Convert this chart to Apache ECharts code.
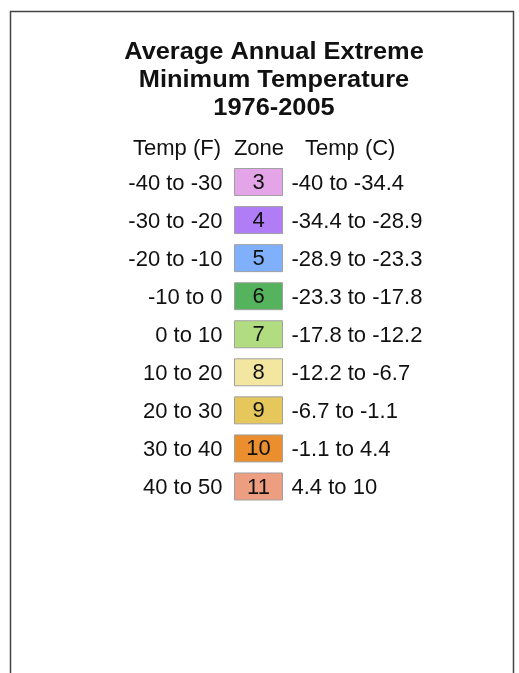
<!DOCTYPE html>
<html>
<head>
<meta charset="utf-8">
<script src="https://cdn.jsdelivr.net/npm/echarts@6/dist/echarts.min.js"></script>
<style>
html,body{margin:0;padding:0;background:#fff;}
#main{width:519px;height:673px;}
</style>
</head>
<body>
<div id="main"></div>
<script>
const titleLines = ['Average Annual Extreme', 'Minimum Temperature', '1976-2005'];
const headers = ['Temp (F)', 'Zone', 'Temp (C)'];
const zones = ['3', '4', '5', '6', '7', '8', '9', '10', '11'];
const tempF = ['-40 to -30', '-30 to -20', '-20 to -10', '-10 to 0', '0 to 10', '10 to 20', '20 to 30', '30 to 40', '40 to 50'];
const tempC = ['-40 to -34.4', '-34.4 to -28.9', '-28.9 to -23.3', '-23.3 to -17.8', '-17.8 to -12.2', '-12.2 to -6.7', '-6.7 to -1.1', '-1.1 to 4.4', '4.4 to 10'];
const zoneColors = ['#e4a5e8', '#b07df6', '#80b0fb', '#55b35d', '#b2dc80', '#f2e6a0', '#e5c75c', '#ea8e2e', '#ee9e80'];

const FONT = "'Liberation Sans', Arial, sans-serif";
const chart = echarts.init(document.getElementById('main'), null, {renderer: 'canvas'});

const data = zones.map((z, i) => ({value: [0, i], zone: z, f: tempF[i], c: tempC[i], color: zoneColors[i]}));

const titleGraphics = titleLines.map((t, i) => ({
  type: 'text', x: 274, y: 53 + i * 27.8, scaleX: 1.08, scaleY: 1,
  style: {text: t, font: 'bold 23.5px ' + FONT, fill: '#111', align: 'center', verticalAlign: 'middle'}
}));

chart.setOption({
  animation: false,
  backgroundColor: '#ffffff',
  graphic: [
    {type: 'rect', shape: {x: 10.5, y: 11.5, width: 503, height: 720}, style: {fill: 'none', stroke: '#444', lineWidth: 1.5}, silent: true},
    ...titleGraphics,
    {type: 'text', x: 221, y: 149, style: {text: headers[0], font: '22px ' + FONT, fill: '#111', align: 'right', verticalAlign: 'middle'}},
    {type: 'text', x: 259, y: 149, style: {text: headers[1], font: '22px ' + FONT, fill: '#111', align: 'center', verticalAlign: 'middle'}},
    {type: 'text', x: 305, y: 149, style: {text: headers[2], font: '22px ' + FONT, fill: '#111', align: 'left', verticalAlign: 'middle'}}
  ],
  grid: {left: 0, width: 517, top: 163, height: 342.5},
  xAxis: {type: 'value', min: -1, max: 1, show: false},
  yAxis: {type: 'category', data: zones, inverse: true, show: false},
  series: [{
    type: 'custom',
    data: data,
    renderItem: function (params, api) {
      const p = api.coord([0, api.value(1)]);
      const d = data[params.dataIndex];
      const cy = p[1];
      return {
        type: 'group',
        children: [
          {type: 'rect', shape: {x: p[0] - 24, y: cy - 13.5, width: 48, height: 27}, style: {fill: d.color, stroke: '#a0a0a0', lineWidth: 1}},
          {type: 'text', x: p[0], y: cy + 1, style: {text: d.zone, font: '22px ' + FONT, fill: '#111', align: 'center', verticalAlign: 'middle'}},
          {type: 'text', x: p[0] - 36, y: cy + 1.5, style: {text: d.f, font: '22px ' + FONT, fill: '#111', align: 'right', verticalAlign: 'middle'}},
          {type: 'text', x: p[0] + 33, y: cy + 1.5, style: {text: d.c, font: '22px ' + FONT, fill: '#111', align: 'left', verticalAlign: 'middle'}}
        ]
      };
    }
  }]
});
</script>
</body>
</html>
